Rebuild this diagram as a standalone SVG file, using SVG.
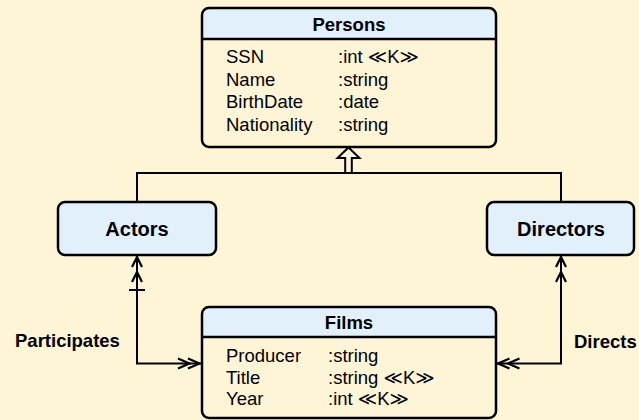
<svg xmlns="http://www.w3.org/2000/svg" width="639" height="420" viewBox="0 0 639 420">
<style>
.bg{fill:#fef5d7}
.body{fill:#fef5d7}
.hdr{fill:#e2f0fb}
.out{fill:none;stroke:#000;stroke-width:2.5}
.sep{stroke:#000;stroke-width:2.5}
.t{font-family:"Liberation Sans","DejaVu Sans",sans-serif;font-size:18.5px;fill:#000}
.b{font-weight:bold}
.c{text-anchor:middle}
.ln{fill:none;stroke:#000;stroke-width:2}
.hd{fill:none;stroke:#000;stroke-width:2.2;stroke-linejoin:miter}
</style>
<rect class="bg" x="0" y="0" width="639" height="420"/>

<g id="connectors">
  <!-- inheritance -->
  <path class="ln" d="M137,202 V173 H561 V202"/>
  <path d="M348.5,147.5 L359.5,158 L351.8,158 L351.8,173 L345.2,173 L345.2,158 L337.5,158 Z" fill="#fef5d7" stroke="#000" stroke-width="2" stroke-linejoin="miter"/>
  <!-- Participates -->
  <path class="ln" d="M137,256 V363.5 H201"/>
  <path class="ln" d="M129,290 H145"/>
  <path class="hd" d="M132,267 L137,257 L142,267 M132,282 L137,272 L142,282"/>
  <path class="hd" d="M188,358.5 L199.5,363.5 L188,368.5 M178,358.5 L189.5,363.5 L178,368.5"/>
  <!-- Directs -->
  <path class="ln" d="M561,256 V363.5 H497"/>
  <path class="hd" d="M556,267 L561,257 L566,267 M556,282 L561,272 L566,282"/>
  <path class="hd" d="M509.5,358.5 L498,363.5 L509.5,368.5 M519.5,358.5 L508,363.5 L519.5,368.5"/>
  <text class="t b" x="15" y="347">Participates</text>
  <text class="t b" x="574" y="348">Directs</text>
</g>

<g id="persons">
  <rect class="body" x="202" y="8" width="294" height="139" rx="7"/>
  <path class="hdr" d="M202,39 V15 Q202,8 209,8 H489 Q496,8 496,15 V39 Z"/>
  <line class="sep" x1="202" y1="39" x2="496" y2="39"/>
  <rect class="out" x="202" y="8" width="294" height="139" rx="7"/>
  <text class="t b c" x="349" y="30.5">Persons</text>
  <text class="t" x="226" y="63">SSN</text>
  <text class="t" x="338" y="63">:int ≪K≫</text>
  <text class="t" x="226" y="85.5">Name</text>
  <text class="t" x="338" y="85.5">:string</text>
  <text class="t" x="226" y="108">BirthDate</text>
  <text class="t" x="338" y="108">:date</text>
  <text class="t" x="226" y="130.5">Nationality</text>
  <text class="t" x="338" y="130.5">:string</text>
</g>

<g id="actors">
  <rect class="hdr" x="58" y="202" width="158" height="53" rx="7"/>
  <rect class="out" x="58" y="202" width="158" height="53" rx="7"/>
  <text class="t b c" x="137" y="235.5" style="font-size:20px">Actors</text>
</g>

<g id="directors">
  <rect class="hdr" x="487" y="202" width="147" height="53" rx="7"/>
  <rect class="out" x="487" y="202" width="147" height="53" rx="7"/>
  <text class="t b c" x="561" y="235.5" style="font-size:20px">Directors</text>
</g>

<g id="films">
  <rect class="body" x="202" y="307" width="294" height="111" rx="7"/>
  <path class="hdr" d="M202,337 V314 Q202,307 209,307 H489 Q496,307 496,314 V337 Z"/>
  <line class="sep" x1="202" y1="337" x2="496" y2="337"/>
  <rect class="out" x="202" y="307" width="294" height="111" rx="7"/>
  <text class="t b c" x="349" y="329">Films</text>
  <text class="t" x="226" y="362">Producer</text>
  <text class="t" x="328" y="362">:string</text>
  <text class="t" x="226" y="383.5">Title</text>
  <text class="t" x="328" y="383.5">:string ≪K≫</text>
  <text class="t" x="226" y="405">Year</text>
  <text class="t" x="328" y="405">:int ≪K≫</text>
</g>
</svg>
